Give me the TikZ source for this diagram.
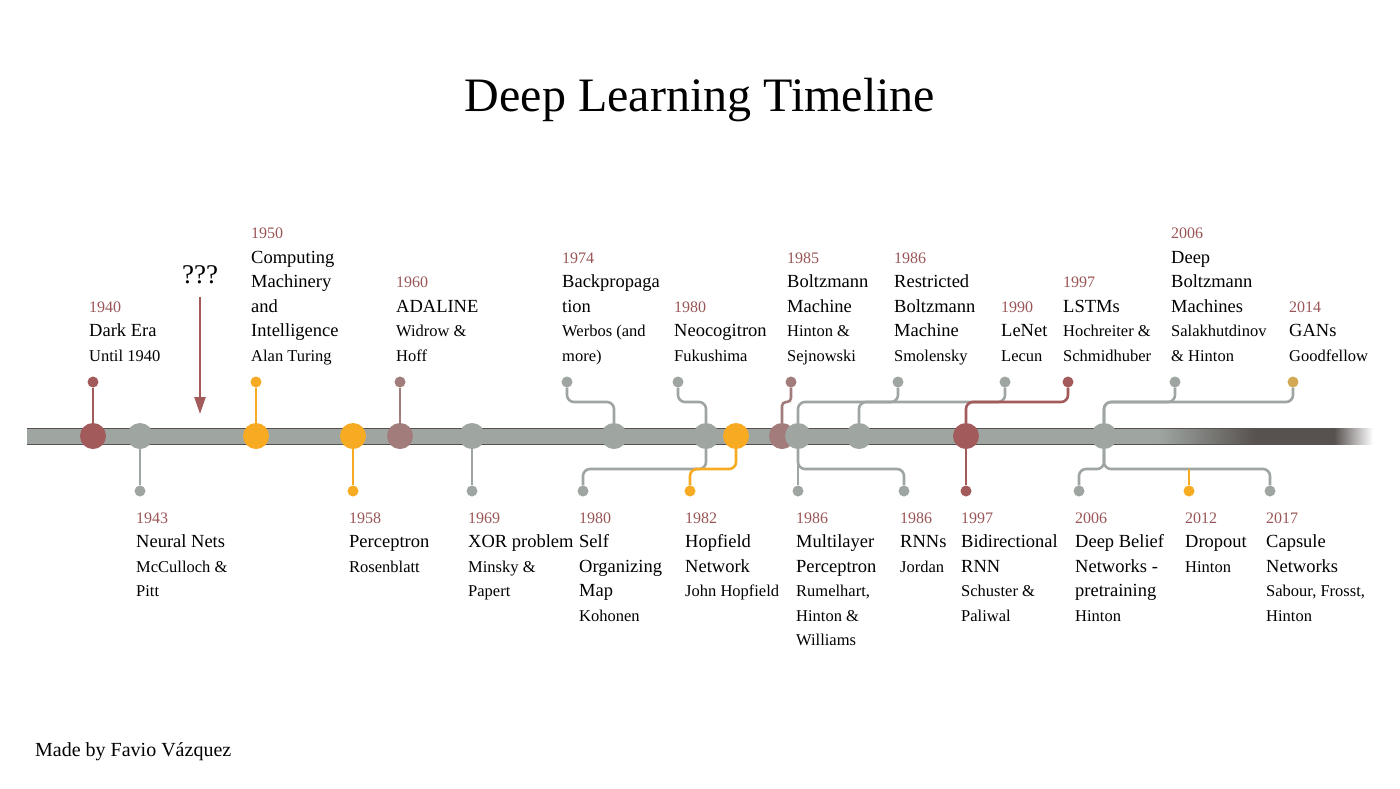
\documentclass[tikz,border=0pt]{standalone}
\usepackage{fontspec}
\setmainfont{Liberation Serif}
\usepackage{xcolor}
\usetikzlibrary{arrows.meta}

\definecolor{tlgray}{HTML}{9FA6A2}
\definecolor{tldark}{HTML}{57514F}
\definecolor{tlred}{HTML}{A25A5A}
\definecolor{tlyear}{HTML}{9A5656}
\definecolor{tlorange}{HTML}{F7AB23}
\colorlet{tlmix}{tlred!55!tlgray}
\colorlet{tlomix}{tlorange!60!tlgray}

\newcommand{\evyear}[1]{{\fontsize{16}{24.5}\selectfont\color{tlyear}\strut#1}}
\newcommand{\evname}[1]{{\fontsize{18.5}{24.5}\selectfont\strut#1}}
\newcommand{\evwho}[1]{{\fontsize{16.5}{24.5}\selectfont\strut#1}}

\begin{document}
\begin{tikzpicture}[x=1pt, y=-1pt,
    bigdot/.style={circle, inner sep=0, minimum size=26},
    smalldot/.style={circle, inner sep=0, minimum size=11},
    conn/.style={line width=2.6, tlgray, rounded corners=7},
    toplbl/.style={anchor=south west, align=left, inner sep=0, font=\fontsize{18.5}{24.5}\selectfont},
    botlbl/.style={anchor=north west, align=left, inner sep=0, font=\fontsize{18.5}{24.5}\selectfont}]
        \fill[white] (0,0) rectangle (1400,788);
        \useasboundingbox (0,0) rectangle (1400,788);

        \node[anchor=base, font=\fontsize{48}{56}\selectfont] (title) at (700,111) {Deep Learning Timeline};

        % the bar
        \fill[tlgray] (27,428) rectangle (1160,444);
        \shade[left color=tlgray, right color=tldark] (1158,428) rectangle (1256,444);
        \fill[tldark] (1255,428) rectangle (1335,444);
        \shade[left color=tldark, right color=white] (1334,428) rectangle (1373,444);
        \draw[tldark, line width=1] (27,428) -- (1335,428) (27,444) -- (1335,444);

        \coordinate (rail) at (0,402);
        \coordinate (lrail) at (0,469);

        % dots on the bar
        \node[bigdot, fill=tlred] (b40) at (93,436) {};
        \node[bigdot, fill=tlgray] (b43) at (140,436) {};
        \node[bigdot, fill=tlorange] (b50) at (256,436) {};
        \node[bigdot, fill=tlorange] (b58) at (353,436) {};
        \node[bigdot, fill=tlmix] (b60) at (400,436) {};
        \node[bigdot, fill=tlgray] (b69) at (472,436) {};
        \node[bigdot, fill=tlgray] (b74) at (614,436) {};
        \node[bigdot, fill=tlgray] (b80) at (706,436) {};
        \node[bigdot, fill=tlorange] (b82) at (736,436) {};
        \node[bigdot, fill=tlmix] (b85) at (782,436) {};
        \node[bigdot, fill=tlgray] (b86) at (798,436) {};
        \node[bigdot, fill=tlgray] (b86r) at (859,436) {};
        \node[bigdot, fill=tlred] (b97) at (966,436) {};
        \node[bigdot, fill=tlgray] (b06) at (1104,436) {};

        % dots above
        \node[smalldot, fill=tlred] (t40) at (93,382) {};
        \node[smalldot, fill=tlorange] (t50) at (256,382) {};
        \node[smalldot, fill=tlmix] (t60) at (400,382) {};
        \node[smalldot, fill=tlgray] (t74) at (567,382) {};
        \node[smalldot, fill=tlgray] (t80) at (678,382) {};
        \node[smalldot, fill=tlmix] (t85) at (791,382) {};
        \node[smalldot, fill=tlgray] (t86) at (898,382) {};
        \node[smalldot, fill=tlgray] (t90) at (1005,382) {};
        \node[smalldot, fill=tlred] (t97) at (1068,382) {};
        \node[smalldot, fill=tlgray] (t06) at (1175,382) {};
        \node[smalldot, fill=tlomix] (t14) at (1293,382) {};

        % dots below
        \node[smalldot, fill=tlgray] (d43) at (140,491) {};
        \node[smalldot, fill=tlorange] (d58) at (353,491) {};
        \node[smalldot, fill=tlgray] (d69) at (472,491) {};
        \node[smalldot, fill=tlgray] (d80) at (583,491) {};
        \node[smalldot, fill=tlorange] (d82) at (690,491) {};
        \node[smalldot, fill=tlgray] (d86) at (798,491) {};
        \node[smalldot, fill=tlgray] (d86r) at (904,491) {};
        \node[smalldot, fill=tlred] (d97) at (966,491) {};
        \node[smalldot, fill=tlgray] (d06) at (1079,491) {};
        \node[smalldot, fill=tlorange] (d12) at (1189,491) {};
        \node[smalldot, fill=tlgray] (d17) at (1270,491) {};

        % links above
        \draw[conn, tlred] (t40) -- (b40);
        \draw[conn, tlorange] (t50) -- (b50);
        \draw[conn, tlmix] (t60) -- (b60);
        \draw[conn] (t74) -- (t74 |- rail) -| (b74);
        \draw[conn] (t80) -- (t80 |- rail) -| (b80);
        \draw[conn, tlmix, rounded corners=4] (t85) -- (t85 |- rail) -| (b85);
        \draw[conn] (t90) -- (t90 |- rail) -| (b86);
        \draw[conn] (t86) -- (t86 |- rail) -| (b86r);
        \draw[conn, tlred] (t97) -- (t97 |- rail) -| (b97);
        \draw[conn] (t06) -- (t06 |- rail) -| (b06);
        \draw[conn] (t14) -- (t14 |- rail) -| (b06);

        % links below
        \draw[conn] (d43) -- (b43);
        \draw[conn, tlorange] (d58) -- (b58);
        \draw[conn] (d69) -- (b69);
        \draw[conn] (d80) -- (d80 |- lrail) -| (b80);
        \draw[conn, tlorange] (d82) -- (d82 |- lrail) -| (b82);
        \draw[conn] (d86) -- (b86);
        \draw[conn] (d86r) -- (d86r |- lrail) -| (b86);
        \draw[conn, tlred] (d97) -- (b97);
        \draw[conn] (d06) -- (d06 |- lrail) -| (b06);
        \draw[conn] (d17) -- (d17 |- lrail) -| (b06);
        \draw[conn, tlorange] (d12) -- (d12 |- lrail);

        % the question
        \node[anchor=base, inner xsep=2, inner ysep=13, font=\fontsize{27}{30}\selectfont] (qq) at (200,283) {???};
        \coordinate (qqend) at (200,414);
        \draw[tlred, line width=2.4, -{Triangle[width=11,length=17]}] (qq) -- (qqend);

        % labels above
        \node[toplbl] (l40) at (89,369) {\evyear{1940}\\\evname{Dark Era}\\\evwho{Until 1940}};
        \node[toplbl] (l50) at (251,369) {\evyear{1950}\\\evname{Computing}\\\evname{Machinery}\\\evname{and}\\\evname{Intelligence}\\\evwho{Alan Turing}};
        \node[toplbl] (l60) at (396,369) {\evyear{1960}\\\evname{ADALINE}\\\evwho{Widrow \&}\\\evwho{Hoff}};
        \node[toplbl] (l74) at (562,369) {\evyear{1974}\\\evname{Backpropaga}\\\evname{tion}\\\evwho{Werbos (and}\\\evwho{more)}};
        \node[toplbl] (l80) at (674,369) {\evyear{1980}\\\evname{Neocogitron}\\\evwho{Fukushima}};
        \node[toplbl] (l85) at (787,369) {\evyear{1985}\\\evname{Boltzmann}\\\evname{Machine}\\\evwho{Hinton \&}\\\evwho{Sejnowski}};
        \node[toplbl] (l86) at (894,369) {\evyear{1986}\\\evname{Restricted}\\\evname{Boltzmann}\\\evname{Machine}\\\evwho{Smolensky}};
        \node[toplbl] (l90) at (1001,369) {\evyear{1990}\\\evname{LeNet}\\\evwho{Lecun}};
        \node[toplbl] (l97) at (1063,369) {\evyear{1997}\\\evname{LSTMs}\\\evwho{Hochreiter \&}\\\evwho{Schmidhuber}};
        \node[toplbl] (l06) at (1171,369) {\evyear{2006}\\\evname{Deep}\\\evname{Boltzmann}\\\evname{Machines}\\\evwho{Salakhutdinov}\\\evwho{\& Hinton}};
        \node[toplbl] (l14) at (1289,369) {\evyear{2014}\\\evname{GANs}\\\evwho{Goodfellow}};

        % labels below
        \node[botlbl] (m43) at (136,506) {\evyear{1943}\\\evname{Neural Nets}\\\evwho{McCulloch \&}\\\evwho{Pitt}};
        \node[botlbl] (m58) at (349,506) {\evyear{1958}\\\evname{Perceptron}\\\evwho{Rosenblatt}};
        \node[botlbl] (m69) at (468,506) {\evyear{1969}\\\evname{XOR problem}\\\evwho{Minsky \&}\\\evwho{Papert}};
        \node[botlbl] (m80) at (579,506) {\evyear{1980}\\\evname{Self}\\\evname{Organizing}\\\evname{Map}\\\evwho{Kohonen}};
        \node[botlbl] (m82) at (685,506) {\evyear{1982}\\\evname{Hopfield}\\\evname{Network}\\\evwho{John Hopfield}};
        \node[botlbl] (m86) at (796,506) {\evyear{1986}\\\evname{Multilayer}\\\evname{Perceptron}\\\evwho{Rumelhart,}\\\evwho{Hinton \&}\\\evwho{Williams}};
        \node[botlbl] (m86r) at (900,506) {\evyear{1986}\\\evname{RNNs}\\\evwho{Jordan}};
        \node[botlbl] (m97) at (961,506) {\evyear{1997}\\\evname{Bidirectional}\\\evname{RNN}\\\evwho{Schuster \&}\\\evwho{Paliwal}};
        \node[botlbl] (m06) at (1075,506) {\evyear{2006}\\\evname{Deep Belief}\\\evname{Networks -}\\\evname{pretraining}\\\evwho{Hinton}};
        \node[botlbl] (m12) at (1185,506) {\evyear{2012}\\\evname{Dropout}\\\evwho{Hinton}};
        \node[botlbl] (m17) at (1266,506) {\evyear{2017}\\\evname{Capsule}\\\evname{Networks}\\\evwho{Sabour, Frosst,}\\\evwho{Hinton}};

        \node[anchor=base west, inner sep=0, font=\fontsize{20}{24}\selectfont] (credit) at (35,756) {Made by Favio Vázquez};
    \end{tikzpicture}
\end{document}
